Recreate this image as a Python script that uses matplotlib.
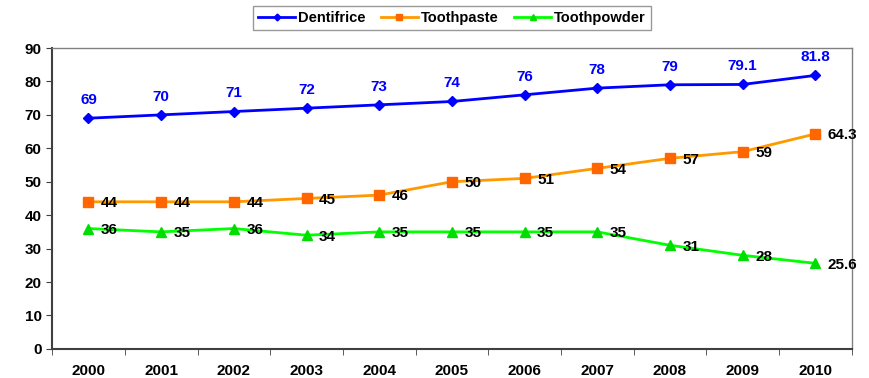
import matplotlib.pyplot as plt

plt.rcParams['font.family'] = ['Liberation Sans', 'DejaVu Sans']
plt.rcParams['font.weight'] = 'bold'

years = ['2000', '2001', '2002', '2003', '2004', '2005', '2006', '2007', '2008', '2009', '2010']
dentifrice = [69, 70, 71, 72, 73, 74, 76, 78, 79, 79.1, 81.8]
toothpaste = [44, 44, 44, 45, 46, 50, 51, 54, 57, 59, 64.3]
toothpowder = [36, 35, 36, 34, 35, 35, 35, 35, 31, 28, 25.6]

fig = plt.figure(figsize=(8.69, 3.78), dpi=100)
ax = fig.add_axes([0.06, 0.077, 0.92, 0.796])

x = list(range(len(years)))
ax.plot(x, dentifrice, color='#0000ff', marker='D', markersize=5, lw=2, label='Dentifrice')
ax.plot(x, toothpaste, color='#ff9900', marker='s', markersize=6.5, lw=2,
        markerfacecolor='#ff6600', markeredgecolor='#ff6600', label='Toothpaste')
ax.plot(x, toothpowder, color='#00ff00', marker='^', markersize=6.5, lw=2,
        markerfacecolor='#00dd00', markeredgecolor='#00dd00', label='Toothpowder')

def fmt(v):
    return str(int(v)) if v == int(v) else str(v)

for i, v in enumerate(dentifrice):
    ax.annotate(fmt(v), (i, v), xytext=(0, 8), textcoords='offset points',
                ha='center', va='bottom', color='#0000ff', fontsize=11, fontweight='bold')
for i, v in enumerate(toothpaste):
    ax.annotate(fmt(v), (i, v), xytext=(9, -1), textcoords='offset points',
                ha='left', va='center', color='black', fontsize=11, fontweight='bold')
for i, v in enumerate(toothpowder):
    ax.annotate(fmt(v), (i, v), xytext=(9, -1), textcoords='offset points',
                ha='left', va='center', color='black', fontsize=11, fontweight='bold')

ax.set_xlim(-0.5, len(years) - 0.5)
ax.set_ylim(0, 90)
ax.set_yticks(range(0, 91, 10))
ax.set_xticks(x)
ax.set_xticklabels(years)
ax.set_xticks([i - 0.5 for i in range(len(years) + 1)], minor=True)
ax.tick_params(axis='x', which='major', length=0, pad=11, labelsize=11)
ax.tick_params(axis='x', which='minor', length=4, color='#404040')
ax.tick_params(axis='y', length=4, labelsize=11, color='#404040')

for s in ['left', 'bottom']:
    ax.spines[s].set_color('#404040')
    ax.spines[s].set_linewidth(1.5)
for s in ['top', 'right']:
    ax.spines[s].set_color('#808080')
    ax.spines[s].set_linewidth(1)

leg = ax.legend(loc='center', bbox_to_anchor=(0.5, 1.1), ncol=3, frameon=True,
                fancybox=False, edgecolor='#808080', fontsize=10.5, handlelength=2.5,
                columnspacing=1.1, borderpad=0.35, handletextpad=0.2, borderaxespad=0,
                markerscale=0.7)
leg.get_frame().set_linewidth(1)

fig.savefig('out.png', dpi=100)
